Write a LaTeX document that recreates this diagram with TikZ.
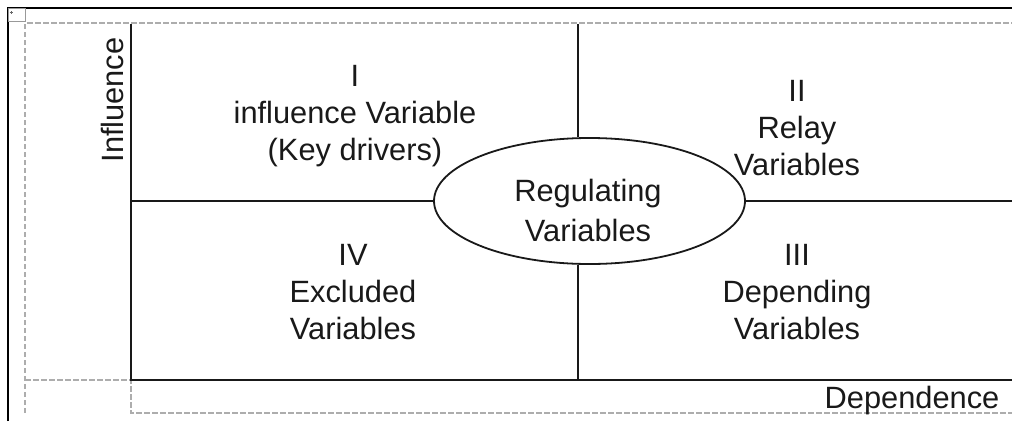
\documentclass[tikz,border=0pt]{standalone}
\usepackage{fontspec}
\setmainfont{Liberation Sans}
\usetikzlibrary{shapes.geometric}
\begin{document}
\begin{tikzpicture}[x=1pt,y=-1pt,
  frame/.style={line width=2.2pt, black},
  axis/.style={line width=2pt, black!90},
  guide/.style={line width=1.8pt, black!32, dash pattern=on 5.5pt off 2.5pt},
  lbl/.style={font=\fontsize{30.8}{37}\selectfont, align=center, text=black!90, inner sep=0pt},
  regshape/.style={draw, ellipse, line width=1.8pt, black!90, inner sep=0pt, minimum width=311pt, minimum height=126pt}]
\useasboundingbox (0,0) rectangle (1012,421);
% outer frame
\coordinate (f0) at (8,421);
\coordinate (f1) at (8,8);
\coordinate (f2) at (1012,8);
\draw[frame] (f0) -- (f1) -- (f2);
\draw[line width=1pt, black!40] (8,8) rectangle (25,21);
\draw[line width=0.6pt, black!60] (9.5,12.5) -- (12.5,12.5) (11,11) -- (11,14);
% dashed guides
\coordinate (g1) at (25,413);
\coordinate (g2) at (25,23);
\coordinate (g3) at (1012,23);
\coordinate (g4) at (25,380);
\coordinate (g5) at (131,380);
\coordinate (g6) at (131,413);
\coordinate (g7) at (1012,413);
\draw[guide] (g1) -- (g2) -- (g3);
\draw[guide] (g4) -- (g5) -- (g6) -- (g7);
% axes
\coordinate (o) at (131,380);
\coordinate (ytop) at (131,24);
\coordinate (xend) at (1012,380);
\draw[axis] (ytop) -- (o) -- (xend);
% central ellipse
\node[regshape] (reg) at (589.5,201) {};
\coordinate (hl) at (131,201);
\coordinate (hr) at (1012,201);
\coordinate (vt) at (578,24);
\coordinate (vb) at (578,380);
\draw[axis] (hl) -- (reg.west);
\draw[axis] (reg.east) -- (hr);
\draw[axis] (vt) -- (vt |- reg.north);
\draw[axis] (vb |- reg.south) -- (vb);
% labels
\node[lbl, anchor=north] (q1) at (355,65.5) {I\\influence Variable\\(Key drivers)};
\node[lbl, anchor=north] (q2) at (797,80.5) {II\\Relay\\Variables};
\node[lbl, anchor=north] (q3) at (797,244.5) {III\\Depending\\Variables};
\node[lbl, anchor=north] (q4) at (353,244.5) {IV\\Excluded\\Variables};
\node[lbl, anchor=north, font=\fontsize{30.8}{40}\selectfont] (regtext) at (588,178.5) {Regulating\\Variables};
\node[lbl, anchor=base, rotate=90] (yl) at (123,100) {Influence};
\node[lbl, anchor=base] (xl) at (912,408) {Dependence};
\end{tikzpicture}
\end{document}
